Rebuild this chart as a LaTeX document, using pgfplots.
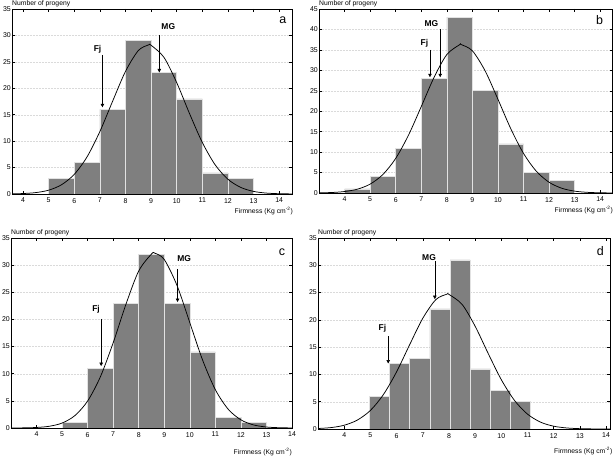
\documentclass[border=0pt]{standalone}
\usepackage{fontspec}
\setmainfont{Liberation Sans}
\usepackage{pgfplots}
\pgfplotsset{compat=1.18}
\usetikzlibrary{arrows.meta}
\definecolor{barfill}{HTML}{7F7F7F}
\definecolor{baredge}{HTML}{E2E2E2}
\definecolor{gridc}{HTML}{DADADA}
\pgfplotsset{
  panel/.style={
    scale only axis,
    anchor=south west,
    ymin=0,
    axis line style={line width=0.8pt},
    tick style={black, line width=0.5pt},
    major tick length=3bp,
    xtick={4,5,...,14},
    ymajorgrids,
    grid style={gridc, dash pattern=on 2pt off 1pt, line width=0.4pt},
    tick label style={font=\fontsize{7}{8}\selectfont},
    /pgf/number format/assume math mode=true,
    yticklabel style={inner sep=1bp},
    xticklabel style={inner sep=1bp, yshift=-3bp},
    clip mode=individual,
  },
  hist/.style={ybar interval, fill=barfill, draw=baredge, line width=0.6pt},
  curve/.style={black, line width=0.75pt, smooth, no markers},
}
\tikzset{
  arr/.style={black, line width=0.55pt, -{Triangle[length=3.5bp,width=3.5bp]}},
  lab/.style={font=\fontsize{8.5}{9}\selectfont\bfseries},
  plet/.style={font=\fontsize{12.5}{13}\selectfont, anchor=base},
  ylab/.style={font=\fontsize{6.8}{7}\selectfont, anchor=base west, inner sep=0pt},
  xlab/.style={font=\fontsize{6.8}{7}\selectfont, anchor=base east, inner sep=0pt},
}
\begin{document}
\begin{tikzpicture}[x=1bp,y=1bp]
% ---------------- panel a ----------------
\begin{axis}[panel, at={(12bp,263bp)}, width=280bp, height=185bp,
  xmin=3.57, xmax=14.5, ymax=35, ytick={0,5,...,35}]
\addplot[hist] coordinates {(5,3) (6,6) (7,16) (8,29) (9,23) (10,18) (11,4) (12,3) (13,0)};
\addplot[curve] coordinates {(3.6,0.032) (4.0,0.086) (4.5,0.265) (5.0,0.72) (5.5,1.74) (6.0,3.71) (6.5,7.03) (7.0,11.81) (7.5,17.58) (8.0,23.20) (8.5,27.13) (8.9,28.2) (9.0,28.13) (9.5,25.86) (10.0,21.06) (10.5,15.21) (11.0,9.74) (11.5,5.52) (12.0,2.78) (12.5,1.24) (13.0,0.49) (13.5,0.17) (14.0,0.053) (14.5,0.015)};
\draw[arr] (axis cs:7.1,26.3) -- (axis cs:7.1,16.4);
\draw[arr] (axis cs:9.32,30.1) -- (axis cs:9.32,23.0);
\node[lab] at (axis cs:6.91,27.4) {Fj};
\node[lab] at (axis cs:9.67,31.7) {MG};
\node[plet] at (axis cs:14.14,32.2) {a};
\node[ylab] at ([yshift=3bp]rel axis cs:0,1) {Number of progeny};
\node[xlab] at ([yshift=-20bp,xshift=1bp]rel axis cs:1,0) {Firmness (Kg cm\textsuperscript{-2})};
\end{axis}
% ---------------- panel b ----------------
\begin{axis}[panel, at={(319bp,264bp)}, width=293.5bp, height=184bp,
  xmin=3.0, xmax=14.48, ymax=45, ytick={0,5,...,45}]
\addplot[hist] coordinates {(4,1) (5,4) (6,11) (7,28) (8,43) (9,25) (10,12) (11,5) (12,3) (13,0)};
\addplot[curve] coordinates {(3.0,0.038) (3.5,0.12) (4.0,0.36) (4.5,0.93) (5.0,2.17) (5.5,4.53) (6.0,8.46) (6.5,14.14) (7.0,21.14) (7.5,28.28) (8.0,33.86) (8.5,36.27) (8.56,36.3) (9.0,34.77) (9.5,29.83) (10.0,22.90) (10.5,15.73) (11.0,9.67) (11.5,5.32) (12.0,2.62) (12.5,1.15) (13.0,0.45) (13.5,0.16) (14.0,0.05) (14.5,0.014)};
\draw[arr] (axis cs:7.34,35.0) -- (axis cs:7.34,28.3);
\draw[arr] (axis cs:7.74,40.0) -- (axis cs:7.74,28.3);
\node[lab] at (axis cs:7.12,36.6) {Fj};
\node[lab] at (axis cs:7.4,41.5) {MG};
\node[plet] at (axis cs:13.97,41.1) {b};
\node[ylab] at ([yshift=3bp]rel axis cs:0,1) {Number of progeny};
\node[xlab] at ([yshift=-20bp,xshift=0.5bp]rel axis cs:1,0) {Firmness (Kg cm\textsuperscript{-2})};
\end{axis}
% ---------------- panel c ----------------
\begin{axis}[panel, at={(11bp,29bp)}, width=281bp, height=190bp,
  xmin=3.0, xmax=14.0, ymax=35, ytick={0,5,...,35}]
\addplot[hist] coordinates {(5,1) (6,11) (7,23) (8,32) (9,23) (10,14) (11,2) (12,1) (13,0)};
\addplot[curve] coordinates {(3.0,0.006) (3.5,0.026) (4.0,0.098) (4.5,0.32) (5.0,0.91) (5.5,2.28) (6.0,4.97) (6.5,9.45) (7.0,15.70) (7.5,22.80) (8.0,28.93) (8.5,32.05) (8.63,32.2) (9.0,31.03) (9.5,26.24) (10.0,19.39) (10.5,12.51) (11.0,7.05) (11.5,3.47) (12.0,1.50) (12.5,0.56) (13.0,0.18) (13.5,0.053) (14.0,0.013)};
\draw[arr] (axis cs:6.53,20.1) -- (axis cs:6.53,11.4);
\draw[arr] (axis cs:9.52,29.2) -- (axis cs:9.52,23.2);
\node[lab] at (axis cs:6.33,21.8) {Fj};
\node[lab] at (axis cs:9.78,31.2) {MG};
\node[plet] at (axis cs:13.61,31.7) {c};
\node[ylab] at ([yshift=3.3bp]rel axis cs:0,1) {Number of progeny};
\node[xlab] at ([yshift=-26.5bp]rel axis cs:1,0) {Firmness (Kg cm\textsuperscript{-2})};
\end{axis}
% ---------------- panel d ----------------
\begin{axis}[panel, at={(318bp,28bp)}, width=292bp, height=191bp,
  xmin=3.0, xmax=14.15, ymax=35, ytick={0,5,...,35}]
\addplot[hist] coordinates {(4.96,6) (5.73,12) (6.50,13) (7.27,22) (8.04,31) (8.81,11) (9.58,7) (10.35,5) (11.12,0)};
\addplot[curve] coordinates {(3.0,0.089) (3.5,0.26) (4.0,0.69) (4.5,1.63) (5.0,3.40) (5.5,6.33) (6.0,10.47) (6.5,15.45) (7.0,20.28) (7.5,23.71) (7.92,24.7) (8.0,24.66) (8.5,22.84) (9.0,18.83) (9.5,13.82) (10.0,9.03) (10.5,5.25) (11.0,2.72) (11.5,1.25) (12.0,0.51) (12.5,0.19) (13.0,0.061) (13.5,0.018) (14.0,0.005) (14.2,0.003)};
\draw[arr] (axis cs:5.68,17.0) -- (axis cs:5.68,12.0);
\draw[arr] (axis cs:7.46,30.7) -- (axis cs:7.46,23.8);
\node[lab] at (axis cs:5.46,18.5) {Fj};
\node[lab] at (axis cs:7.24,31.5) {MG};
\node[plet] at (axis cs:13.78,31.8) {d};
\node[ylab] at ([yshift=3.3bp]rel axis cs:0,1) {Number of progeny};
\node[xlab] at ([yshift=-25bp,xshift=2.5bp]rel axis cs:1,0) {Firmness (Kg cm\textsuperscript{-2})};
\end{axis}
\pgfresetboundingbox
\useasboundingbox (0,0) rectangle (614,457);
\end{tikzpicture}
\end{document}
